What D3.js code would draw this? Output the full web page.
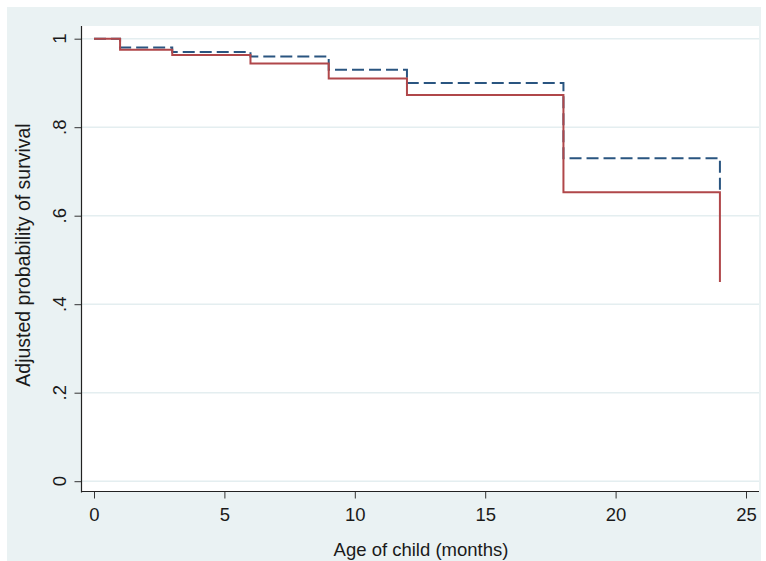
<!DOCTYPE html>
<html>
<head>
<meta charset="utf-8">
<script src="https://cdn.jsdelivr.net/npm/d3@7"></script>
<style>
  html, body { margin: 0; padding: 0; background: #ffffff; }
  svg { display: block; }
  text { font-family: "Liberation Sans", Arial, sans-serif; fill: #1a1a1a; }
</style>
</head>
<body>
<script>
// ---- Data ----
const months = [0, 1, 3, 6, 9, 12, 18, 24];
const survivalSolid = [1.0, 0.975, 0.963, 0.944, 0.910, 0.873, 0.653, 0.450];
const survivalDashed = [1.0, 0.980, 0.970, 0.960, 0.930, 0.900, 0.730, 0.655];
const xTicks = [0, 5, 10, 15, 20, 25];
const yTicks = [0, 0.2, 0.4, 0.6, 0.8, 1];
const yTickLabels = ["0", ".2", ".4", ".6", ".8", "1"];
const xTitle = "Age of child (months)";
const yTitle = "Adjusted probability of survival";

// ---- Layout ----
const W = 766, H = 561;
const plot = { left: 81, top: 26, right: 759, bottom: 492 };

const svg = d3.select("body").append("svg").attr("width", W).attr("height", H);

svg.append("rect").attr("x", 0).attr("y", 0).attr("width", W).attr("height", H).attr("fill", "#ffffff");
svg.append("rect").attr("x", 7).attr("y", 7).attr("width", 754).attr("height", 554).attr("fill", "#eaf2f3");
svg.append("rect").attr("x", plot.left).attr("y", plot.top)
  .attr("width", plot.right - plot.left).attr("height", plot.bottom - plot.top).attr("fill", "#ffffff");

const x = d3.scaleLinear().domain([0, 25]).range([94, 746]);
const y = d3.scaleLinear().domain([0, 1]).range([481.2, 38.7]);

// gridlines
svg.append("g").selectAll("line").data(yTicks).join("line")
  .attr("x1", plot.left).attr("x2", plot.right)
  .attr("y1", d => y(d)).attr("y2", d => y(d))
  .attr("stroke", "#e4eef0").attr("stroke-width", 1.5);

// y axis
const yAxis = d3.axisLeft(y).tickValues(yTicks).tickSize(7).tickFormat((d, i) => yTickLabels[i]);
const gy = svg.append("g").attr("transform", `translate(${plot.left + 0.5},0)`).call(yAxis);
gy.select(".domain").remove();
gy.selectAll(".tick line").attr("stroke", "#333");
gy.selectAll(".tick text").remove();
svg.append("line").attr("x1", plot.left + 0.5).attr("x2", plot.left + 0.5)
  .attr("y1", plot.top).attr("y2", plot.bottom + 0.5).attr("stroke", "#222").attr("stroke-width", 1.2);
svg.append("g").selectAll("text").data(yTicks).join("text")
  .attr("transform", d => `translate(59,${y(d)}) rotate(-90)`)
  .attr("text-anchor", "middle").attr("dominant-baseline", "central")
  .attr("font-size", 18.5)
  .text((d, i) => yTickLabels[i]);

// x axis
const xAxis = d3.axisBottom(x).tickValues(xTicks).tickSize(7).tickFormat(d3.format("d"));
const gx = svg.append("g").attr("transform", `translate(0,${plot.bottom - 0.5})`).call(xAxis);
gx.select(".domain").remove();
gx.selectAll(".tick line").attr("stroke", "#333");
gx.selectAll(".tick text").attr("font-size", 18.5).attr("y", 16.5).attr("dy", "0.71em")
  .attr("font-family", "Liberation Sans, Arial, sans-serif").attr("fill", "#1a1a1a");
svg.append("line").attr("x1", plot.left).attr("x2", plot.right)
  .attr("y1", plot.bottom - 0.5).attr("y2", plot.bottom - 0.5).attr("stroke", "#222").attr("stroke-width", 1.2);

// titles
svg.append("text").attr("x", 421).attr("y", 549)
  .attr("text-anchor", "middle").attr("dominant-baseline", "central")
  .attr("font-size", 18.5).text(xTitle);
svg.append("text").attr("transform", `translate(23,255) rotate(-90)`)
  .attr("text-anchor", "middle").attr("dominant-baseline", "central")
  .attr("font-size", 19.5).text(yTitle);

// survival step lines
const line = (vals) => d3.line().curve(d3.curveStepAfter)
  .x((d, i) => x(months[i])).y(d => y(d))(vals);

svg.append("path").attr("d", line(survivalDashed))
  .attr("fill", "none").attr("stroke", "#2a5580").attr("stroke-width", 2)
  .attr("stroke-dasharray", "12,5");
svg.append("path").attr("d", line(survivalSolid))
  .attr("fill", "none").attr("stroke", "#b0474a").attr("stroke-width", 2);
</script>
</body>
</html>
